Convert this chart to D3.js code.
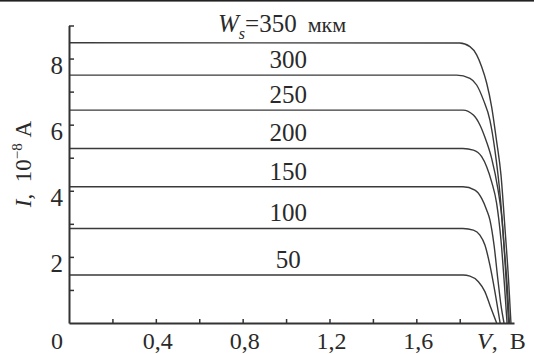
<!DOCTYPE html>
<html>
<head>
<meta charset="utf-8">
<script src="https://cdn.jsdelivr.net/npm/d3@7"></script>
<style>
  body { margin: 0; background: #fff; }
</style>
</head>
<body>
<svg id="chart" width="534" height="354" font-family="'Liberation Serif', 'Times New Roman', Tinos, 'DejaVu Serif', serif"></svg>
<script>
// Ws, мкм
const widths = [350, 300, 250, 200, 150, 100, 50];

// [V, I 10^-8 A]
const curve350 = [[0, 8.48], [1.80, 8.47], [1.847, 8.36], [1.878, 8.11], [1.901, 7.75], [1.924, 7.26], [1.947, 6.54], [1.969, 5.54], [1.990, 4.48], [2.009, 2.81], [2.025, 1.30], [2.036, 0]];
const curve300 = [[0, 7.50], [1.786, 7.50], [1.847, 7.40], [1.878, 7.20], [1.909, 6.75], [1.939, 6.14], [1.962, 5.23], [1.986, 3.87], [2.004, 2.36], [2.020, 1.0], [2.029, 0]];
const curve250 = [[0, 6.44], [1.815, 6.44], [1.863, 6.29], [1.893, 5.99], [1.916, 5.62], [1.947, 4.98], [1.976, 4.05], [1.995, 3.12], [2.011, 1.60], [2.025, 0]];
const curve200 = [[0, 5.28], [1.815, 5.28], [1.863, 5.23], [1.901, 5.03], [1.924, 4.73], [1.947, 4.27], [1.970, 3.62], [1.990, 2.51], [2.006, 1.15], [2.018, 0]];
const curve150 = [[0, 4.12], [1.815, 4.12], [1.870, 4.02], [1.901, 3.77], [1.924, 3.42], [1.939, 3.12], [1.958, 2.36], [1.976, 1.30], [1.990, 0.54], [2.004, 0]];
const curve100 = [[0, 2.86], [1.815, 2.86], [1.863, 2.81], [1.893, 2.66], [1.916, 2.36], [1.939, 1.75], [1.962, 0.95], [1.986, 0]];
const curve50 = [[0, 1.45], [1.815, 1.45], [1.847, 1.42], [1.886, 1.25], [1.916, 0.95], [1.939, 0.54], [1.956, 0.24], [1.970, 0]];
const curves = [curve350, curve300, curve250, curve200, curve150, curve100, curve50];

const xTicks = [0.2, 0.4, 0.6, 0.8, 1.0, 1.2, 1.4, 1.6, 1.8];
const xLabels = [0, 0.4, 0.8, 1.2, 1.6];
const yTicks = [1, 2, 3, 4, 5, 6, 7, 8, 9];
const yLabels = [2, 4, 6, 8];

const svg = d3.select('#chart');
const x = d3.scaleLinear().domain([0, 2.05]).range([69, 514]);
const y = d3.scaleLinear().domain([0, 9]).range([323, 25.5]);
const comma = d => String(d).replace('.', ',');
const ink = '#2a2a2a';

// top rule of the page
svg.append('rect')
  .attr('x', 0).attr('y', 0)
  .attr('width', 534).attr('height', 1.6)
  .attr('fill', '#222');

// curves
const line = d3.line()
  .x(d => x(d[0]))
  .y(d => y(d[1]))
  .curve(d3.curveMonotoneX);

svg.append('g')
  .selectAll('path')
  .data(curves)
  .join('path')
  .attr('d', line)
  .attr('fill', 'none')
  .attr('stroke', '#3a3a3a')
  .attr('stroke-width', 1.4);

// axes, ticks pointing inside
const xAxis = svg.append('g')
  .attr('transform', `translate(0, ${y(0)})`)
  .call(d3.axisBottom(x).tickValues(xTicks).tickSizeInner(-4).tickSizeOuter(0).tickFormat(''));
const yAxis = svg.append('g')
  .attr('transform', `translate(${x(0)}, 0)`)
  .call(d3.axisLeft(y).tickValues(yTicks).tickSizeInner(-5).tickSizeOuter(0).tickFormat(''));

[xAxis, yAxis].forEach((g) => {
  g.select('.domain').attr('stroke', '#333').attr('stroke-width', 2);
  g.selectAll('.tick line').attr('stroke', '#333').attr('stroke-width', 1.5);
});

// tick labels
svg.append('g')
  .selectAll('text')
  .data(xLabels)
  .join('text')
  .attr('x', d => (d === 0 ? x(d) - 12 : x(d) + 2))
  .attr('y', 349)
  .attr('text-anchor', 'middle')
  .attr('font-size', 24)
  .attr('fill', ink)
  .text(comma);

svg.append('g')
  .selectAll('text')
  .data(yLabels)
  .join('text')
  .attr('x', 63)
  .attr('y', d => y(d) + 15)
  .attr('text-anchor', 'end')
  .attr('font-size', 25)
  .attr('fill', ink)
  .text(d => d);

// axis titles
const xTitle = svg.append('text')
  .attr('x', 477)
  .attr('y', 349)
  .attr('font-size', 24)
  .attr('fill', ink);
xTitle.append('tspan').attr('font-style', 'italic').text('V');
xTitle.append('tspan').text(',\u00a0\u00a0В');

const yTitle = svg.append('text')
  .attr('transform', 'translate(31, 164) rotate(-90)')
  .attr('text-anchor', 'middle')
  .attr('font-size', 23)
  .attr('fill', ink);
yTitle.append('tspan').attr('font-style', 'italic').text('I');
yTitle.append('tspan').text(',\u00a0\u00a010');
yTitle.append('tspan').attr('font-size', 15).attr('dy', -9).text('−8');
yTitle.append('tspan').attr('dy', 9).text('\u00a0А');

// curve labels
const labelV = 1.01;
svg.append('g')
  .selectAll('text')
  .data(widths.slice(1))
  .join('text')
  .attr('x', x(labelV))
  .attr('y', (d, i) => y(curves[i + 1][0][1]) - 7)
  .attr('text-anchor', 'middle')
  .attr('font-size', 25)
  .attr('fill', ink)
  .text(d => d);

const title = svg.append('text')
  .attr('x', 218)
  .attr('y', y(curve350[0][1]) - 11)
  .attr('font-size', 25)
  .attr('fill', ink);
title.append('tspan').attr('font-style', 'italic').text('W');
title.append('tspan').attr('font-style', 'italic').attr('font-size', 16).attr('dy', 7).text('s');
title.append('tspan').attr('dy', -7).text(`=${widths[0]}`);
title.append('tspan').attr('font-size', 22).text('\u00a0\u00a0мкм');
</script>
</body>
</html>
